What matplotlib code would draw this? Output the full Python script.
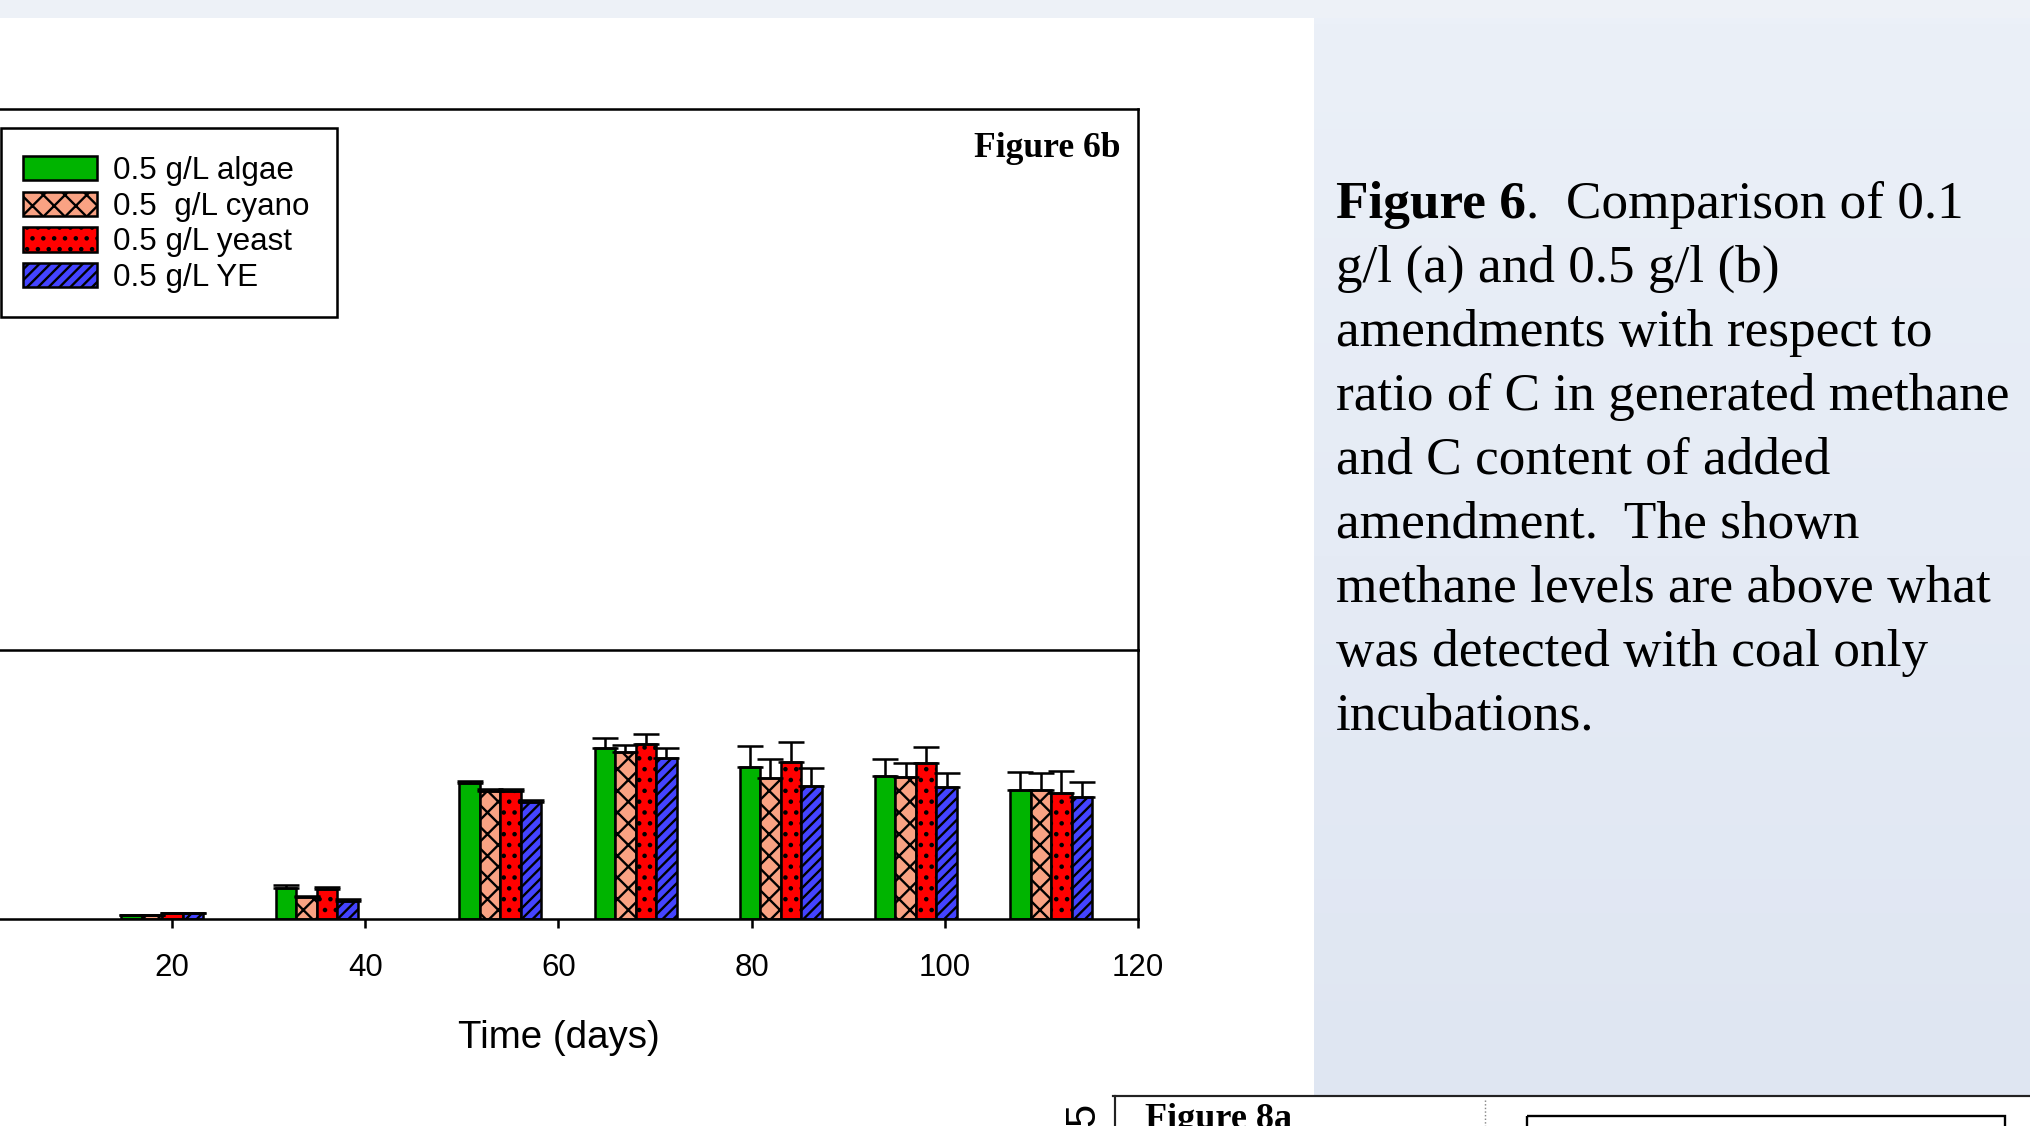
import matplotlib
matplotlib.use('Agg')
import matplotlib.pyplot as plt
import numpy as np
from matplotlib.patches import Rectangle
from matplotlib.colors import LinearSegmentedColormap

# ---------------- data ----------------
days = [19, 35, 54, 68, 83, 97, 111]
labels = ['0.5 g/L algae', '0.5  g/L cyano', '0.5 g/L yeast', '0.5 g/L YE']
algae = [0.45, 3.1, 13.6, 17.1, 15.2, 14.3, 12.9]
cyano = [0.45, 2.2, 12.8, 16.7, 14.1, 14.2, 12.9]
yeast = [0.6, 3.0, 12.8, 17.5, 15.7, 15.6, 12.6]
ye = [0.6, 1.8, 11.7, 16.1, 13.3, 13.2, 12.2]
algae_err = [0.0, 0.3, 0.2, 1.0, 2.1, 1.7, 1.85]
cyano_err = [0.0, 0.1, 0.2, 0.7, 1.9, 1.4, 1.75]
yeast_err = [0.0, 0.2, 0.2, 1.0, 2.0, 1.6, 2.2]
ye_err = [0.0, 0.2, 0.2, 1.0, 1.8, 1.4, 1.5]
xticks = [20, 40, 60, 80, 100, 120]
xlabel = 'Time (days)'
panel_title = 'Figure 6b'
caption_bold = 'Figure 6'
caption_first = '.  Comparison of 0.1'
caption_lines = ['g/l (a) and 0.5 g/l (b)',
                 'amendments with respect to',
                 'ratio of C in generated methane',
                 'and C content of added',
                 'amendment.  The shown',
                 'methane levels are above what',
                 'was detected with coal only',
                 'incubations.']

colors = ['#00b400', '#f9a283', '#ff0000', '#4444ff']
hatches = [None, 'xx', '..', '////']

W, H, DPI = 2030, 1126, 130
plt.rcParams['hatch.linewidth'] = 1.3
plt.rcParams['hatch.color'] = 'black'
SANS = 'Liberation Sans'
SERIF = 'Liberation Serif'

fig = plt.figure(figsize=(W / DPI, H / DPI), dpi=DPI)
fig.patch.set_facecolor('white')

# background / decorations axes in pixel coordinates
bg = fig.add_axes([0, 0, 1, 1], zorder=-10)
bg.axis('off')
bg.add_patch(Rectangle((0, 0), W, 18, color='#edf1f7', lw=0))
cmap = LinearSegmentedColormap.from_list('pan', ['#ebf0f8', '#dfe6f2'])
bg.imshow(np.linspace(0, 1, 256).reshape(-1, 1), extent=[1314, W, 1095, 18],
          cmap=cmap, aspect='auto', interpolation='bilinear', origin='upper')
bg.set_xlim(0, W)
bg.set_ylim(H, 0)

# ---------------- chart axes ----------------
xr = 1138 / W
ax1 = fig.add_axes([0, 1 - 650 / H, xr, (650 - 109) / H])
ax2 = fig.add_axes([0, 1 - 919 / H, xr, (919 - 650) / H])
for a in (ax1, ax2):
    a.set_facecolor('none')
    for s in a.spines.values():
        s.set_linewidth(1.4)
        s.set_color('black')
ax1.spines['left'].set_visible(False)
ax1.set_xticks([])
ax1.set_yticks([])
ax2.spines['left'].set_visible(False)
ax2.spines['top'].set_visible(False)
ax2.set_yticks([])

px_per_day = (1138 - 172) / 100.0
ax2.set_xlim(20 - 172 / px_per_day, 120)
ax2.set_ylim(0, 26.9)
ax1.set_xlim(ax2.get_xlim())

w = 2.12
vals = [algae, cyano, yeast, ye]
errs = [algae_err, cyano_err, yeast_err, ye_err]
x = np.array(days, dtype=float)
handles = []
for i in range(4):
    pos = x + (i - 1.5) * w
    e = np.array(errs[i])
    bc = ax2.bar(pos, vals[i], width=w, color=colors[i], edgecolor='black',
                 linewidth=1.4, hatch=hatches[i], label=labels[i],
                 yerr=[np.zeros_like(e), e],
                 error_kw=dict(ecolor='black', elinewidth=1.4, capsize=7.2,
                               capthick=1.4), zorder=2)
    handles.append(bc)

ax2.set_xticks(xticks)
ax2.set_xticklabels([str(t) for t in xticks], fontsize=17.3, family=SANS)
ax2.tick_params(axis='x', direction='out', length=5, width=1.4, pad=14,
                colors='black')

# legend: content by matplotlib, frame drawn as a rectangle
leg = fig.legend(handles, labels, loc='upper left',
                 bbox_to_anchor=(1 / W, 1 - 134 / H),
                 bbox_transform=fig.transFigure, borderaxespad=0,
                 prop={'family': SANS, 'size': 17.4}, frameon=False,
                 borderpad=0.70, labelspacing=0.175,
                 handlelength=2.35, handleheight=0.82, handletextpad=0.53)
bg.add_patch(Rectangle((1, 128), 336, 189, fill=False, ec='black', lw=1.4,
                       zorder=5))

# texts of the chart
bg.text(1121, 157, panel_title, ha='right', va='baseline', fontsize=19.7,
        fontweight='bold', family=SERIF)
bg.text(559, 1038, xlabel, ha='center', va='center', fontsize=21.3, family=SANS)

# caption on the right panel
cap_fs = 29.5
cx = 1336
tb = bg.text(cx, 218, caption_bold, ha='left', va='baseline', fontsize=cap_fs,
             fontweight='bold', family=SERIF)
fig.canvas.draw()
r = fig.canvas.get_renderer()
bb = tb.get_window_extent(r)
xend = bg.transData.inverted().transform((bb.x1, bb.y0))[0]
bg.text(xend, 218, caption_first, ha='left', va='baseline', fontsize=cap_fs,
        family=SERIF)
for k, line in enumerate(caption_lines):
    bg.text(cx, 218 + 64 * (k + 1), line, ha='left', va='baseline',
            fontsize=cap_fs, family=SERIF)

# partial next figure at the bottom
bg.plot([1113, W], [1096, 1096], color='#222222', lw=1.2)
bg.plot([1115, 1115], [1096, H], color='#222222', lw=1.2)
bg.text(1083, 1114, '5', rotation=90, ha='center', va='center', fontsize=23,
        family=SANS)
bg.text(1145, 1128, 'Figure 8a', ha='left', va='baseline', fontsize=20,
        fontweight='bold', family=SERIF)
bg.plot([1485, 1485], [1100, H], color='#888888', lw=0.8, ls=(0, (1, 1.5)))
bg.add_patch(Rectangle((1527, 1116), 2005 - 1527, 40, fill=False,
                       ec='black', lw=1.3))
bg.set_xlim(0, W)
bg.set_ylim(H, 0)

fig.savefig('out.png', dpi=DPI)
